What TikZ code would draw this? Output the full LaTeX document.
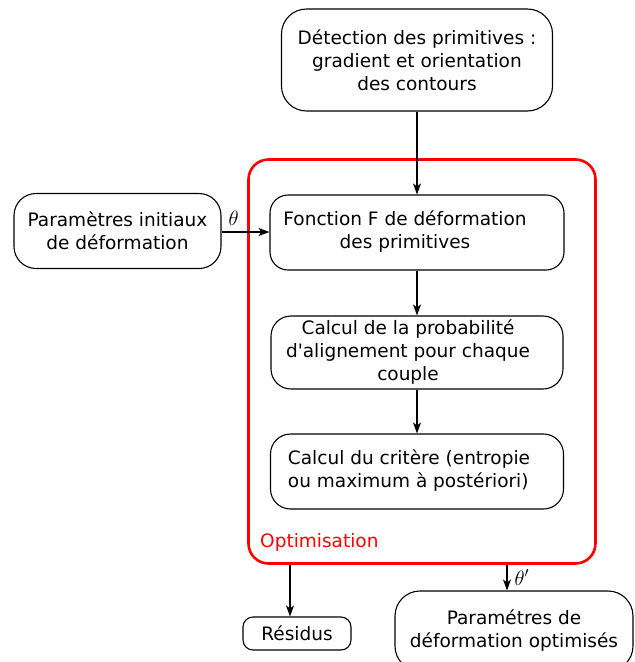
\documentclass[tikz,border=0pt]{standalone}
\usepackage{fontspec}
\setmainfont{DejaVu Sans}
\usetikzlibrary{arrows.meta}
\begin{document}
\begin{tikzpicture}[x=1pt,y=-1pt,
  txt/.style={font=\fontsize{18.5}{23}\selectfont},
  box/.style={draw=black, line width=1.1pt, align=center, inner sep=0pt, txt},
  arr/.style={-{Stealth[length=11pt,width=8pt,inset=3pt]}, line width=1.3pt}]
\useasboundingbox (0,0) rectangle (635,662);
% red optimisation frame
\node[draw=red, line width=2.6pt, rounded corners=20pt, minimum width=347pt, minimum height=404pt, inner sep=0pt] (opt) at (422,361.5) {};
\node[anchor=west, text=red, txt, inner sep=0pt] (optlbl) at (260,542) {Optimisation};
% boxes
\node[box, rounded corners=25pt, minimum width=271pt, minimum height=102pt] (det) at (417,60) {Détection des primitives :\\gradient et orientation\\des contours};
\node[box, rounded corners=22pt, minimum width=207pt, minimum height=75pt] (par) at (117.5,231) {Paramètres initiaux\\de déformation};
\node[box, rounded corners=18pt, minimum width=294pt, minimum height=75pt] (fon) at (417,232.5) {};
\node[txt, align=center, inner sep=0pt] (fontxt) at (405,232) {Fonction F de déformation\\des primitives};
\node[box, rounded corners=20pt, minimum width=292pt, minimum height=73pt] (pro) at (417,352.5) {};
\node[txt, align=center, inner sep=0pt] (protxt) at (408,352) {Calcul de la probabilité\\d\textquotesingle alignement pour chaque\\couple};
\node[box, rounded corners=20pt, minimum width=293pt, minimum height=75pt] (cri) at (417,471.5) {};
\node[txt, align=left, inner sep=0pt] (critxt) at (409,471) {Calcul du critère (entropie\\ou maximum à postériori)};
\node[box, rounded corners=10pt, minimum width=108pt, minimum height=33pt] (res) at (297,633.5) {Résidus};
\node[box, rounded corners=25pt, minimum width=238pt, minimum height=80pt] (pom) at (514,631) {Paramétres de\\déformation optimisés};
\coordinate (pomin) at ([xshift=-7pt]pom.north);
\coordinate (resin) at ([xshift=-7pt]res.north);
\coordinate (fonin) at (fon.west |- 0,232);
% connectors
\draw[arr] (det.south) -- (fon.north);
\draw[arr] (par.east |- fonin) -- (fonin) node[pos=0.25, above=5pt, font=\fontsize{20}{22}\selectfont, inner sep=1pt] (th) {$\theta$};
\draw[arr] (fon.south) -- (pro.north);
\draw[arr] (pro.south) -- (cri.north);
\draw[arr] (opt.south -| resin) -- (resin);
\draw[arr] (opt.south -| pomin) -- (pomin) node[midway, right=6pt, font=\fontsize{20}{22}\selectfont, inner sep=1pt] (thp) {$\theta'$};
\end{tikzpicture}
\end{document}
